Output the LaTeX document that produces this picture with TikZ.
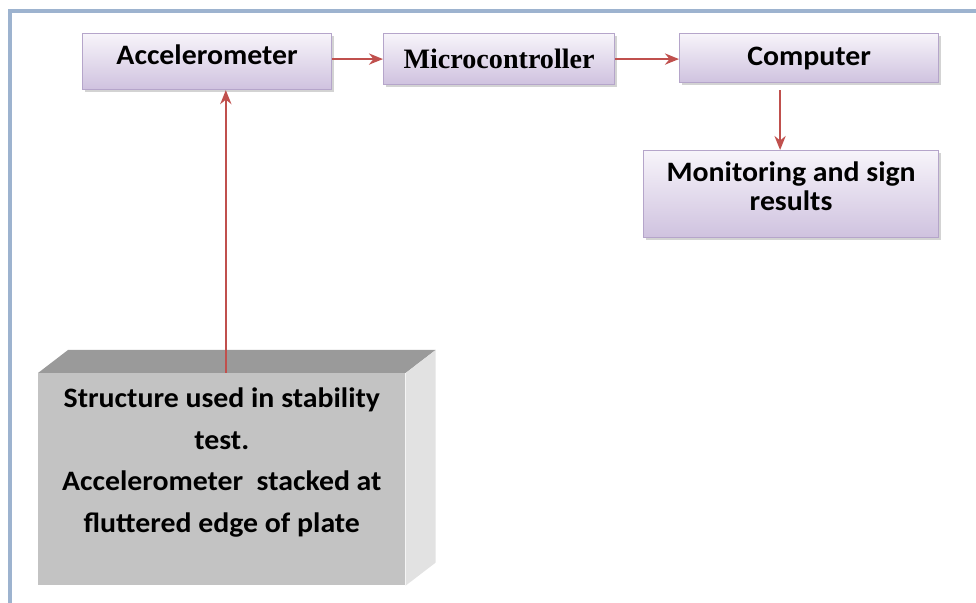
\documentclass[tikz,border=0pt]{standalone}
\usepackage{fontspec}
\setmainfont{Carlito}[FakeStretch=1.06]
\newfontfamily\timesfont{Liberation Serif}
\usetikzlibrary{arrows.meta}
\usetikzlibrary{shadows}
\usetikzlibrary{positioning}
\usetikzlibrary{calc}
\definecolor{framecol}{HTML}{9DB3CF}
\definecolor{lavtop}{HTML}{F7F4FA}
\definecolor{lavbot}{HTML}{CFC2DF}
\definecolor{lavline}{HTML}{B5A5CA}
\definecolor{arrred}{HTML}{C0504D}
\definecolor{facefront}{HTML}{C3C3C3}
\definecolor{facetop}{HTML}{9A9A9A}
\definecolor{faceside}{HTML}{E2E2E2}
\tikzset{
    block/.style={draw=lavline, line width=0.8pt, top color=lavtop, bottom color=lavbot,
        anchor=north west, inner sep=0pt, font=\bfseries\fontsize{20}{21}\selectfont,
        drop shadow={shadow xshift=2pt, shadow yshift=-2pt, opacity=0.35}},
    arr/.style={-{Stealth[length=10pt,width=8pt]}, arrred, line width=1.3pt}
}

\begin{document}
\begin{tikzpicture}[x=0.025cm, y=-0.025cm]
        \useasboundingbox (0,0) rectangle (976,603);
        % frame
        \draw[framecol, line width=2.2pt] (10,603) -- (10,11) -- (976,11);

        % top row
        \node[block, minimum width=6.225cm, minimum height=1.4cm, text depth=10pt] (acc) at (82,33)
            {Accelerometer};
        \node[block, minimum width=5.775cm, minimum height=1.275cm,
              font=\timesfont\bfseries\fontsize{20}{21}\selectfont] (micro) at (383,33)
            {Microcontroller};
        \node[block, minimum width=6.475cm, minimum height=1.225cm, text depth=2pt] (comp) at (679,33)
            {Computer};
        \node[block, minimum width=7.375cm, minimum height=2.175cm, align=center, text depth=11pt]
            (mon) at (643,150) {Monitoring and sign\\results};

        % 3d block
        \node[fill=facefront, anchor=north west, minimum width=9.175cm, minimum height=5.3cm,
              inner sep=0pt] (struct) at (38,373) {};
        \fill[facetop] (struct.north west) -- ++(30,-23) -- ($(struct.north east)+(30,-23)$)
            -- (struct.north east) -- cycle;
        \fill[faceside] (struct.north east) -- ++(30,-23) -- ($(struct.south east)+(30,-23)$)
            -- (struct.south east) -- cycle;
        \node[align=center, anchor=north, font=\bfseries\fontsize{20}{29.5}\selectfont]
            (structlbl) at ([yshift=-0.25cm]struct.north)
            {Structure used in stability\\test.\\Accelerometer~ stacked at\\fluttered edge of plate};

        % connectors
        \draw[arr] (acc.east |- micro.west) -- (micro.west);
        \draw[arr] (micro.east) -- (micro.east -| comp.west);
        \draw[arr] ([xshift=-0.275cm,yshift=-0.175cm]comp.south -| mon.north) -- ([xshift=-0.275cm]mon.north);
        \draw[arr] ([xshift=0.1cm]struct.north) -- ([xshift=0.1cm]struct.north |- acc.south);
    \end{tikzpicture}
\end{document}
